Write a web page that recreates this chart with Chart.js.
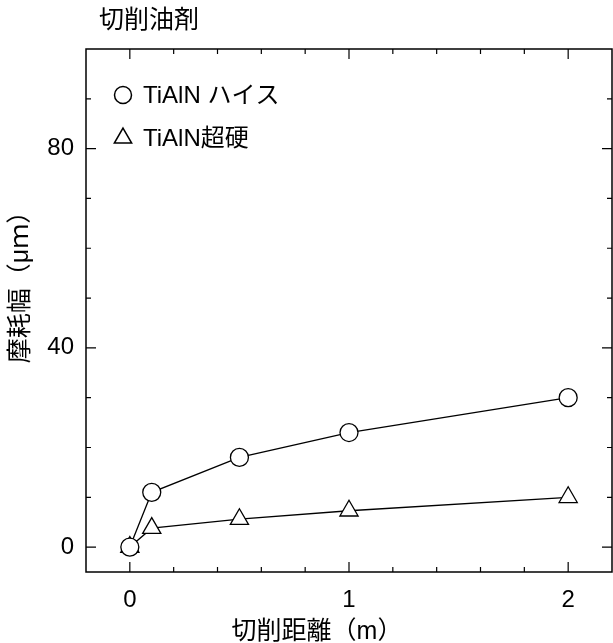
<!DOCTYPE html>
<html>
<head>
<meta charset="utf-8">
<script src="https://cdn.jsdelivr.net/npm/chart.js@4"></script>
<style>
  html, body { margin: 0; padding: 0; background: #fff; }
  #wrap { width: 613px; height: 643px; }
</style>
</head>
<body>
<div id="wrap"><canvas id="myChart" width="613" height="643"></canvas></div>
<script>
var FONT = "'Liberation Sans', 'Noto Sans CJK JP', sans-serif";

var distance = [0, 0.1, 0.5, 1, 2];
var hssWear = [0, 11, 18, 23, 30];
var carbideWear = [0, 3.8, 5.6, 7.3, 10];
var seriesNames = ["TiAlN ハイス", "TiAlN超硬"];
var xTickLabels = [0, 1, 2];
var yTickLabels = [0, 40, 80];
var xMinorTicks = [0.2, 0.4, 0.6, 0.8, 1.2, 1.4, 1.6, 1.8, 2.0];
var yMinorTicks = [10, 20, 30, 50, 60, 70, 90];

function toPoints(xs, ys) {
  return xs.map(function (x, i) { return { x: x, y: ys[i] }; });
}

function tickSet(major, minor) {
  var all = major.map(function (v) { return { value: v, major: true }; })
    .concat(minor.filter(function (v) { return major.indexOf(v) < 0; })
      .map(function (v) { return { value: v, major: false }; }));
  return all.sort(function (a, b) { return a.value - b.value; });
}

// ticks drawn inward on all four sides, longer on labelled ones
var innerTicks = {
  id: "innerTicks",
  afterDraw: function (chart) {
    var ctx = chart.ctx;
    var a = chart.chartArea;
    var xs = chart.scales.x, ys = chart.scales.y;
    ctx.save();
    ctx.strokeStyle = "#000";
    ctx.lineWidth = 1.5;
    ctx.strokeRect(a.left, a.top, a.right - a.left, a.bottom - a.top);
    ctx.lineWidth = 1.2;
    ctx.beginPath();
    xs.ticks.forEach(function (t) {
      var px = xs.getPixelForValue(t.value);
      var len = t.major ? 10 : 5;
      ctx.moveTo(px, a.bottom); ctx.lineTo(px, a.bottom - len);
      ctx.moveTo(px, a.top); ctx.lineTo(px, a.top + len);
    });
    ys.ticks.forEach(function (t) {
      var py = ys.getPixelForValue(t.value);
      var len = t.major ? 10 : 5;
      ctx.moveTo(a.left, py); ctx.lineTo(a.left + len, py);
      ctx.moveTo(a.right, py); ctx.lineTo(a.right - len, py);
    });
    ctx.stroke();

    // legend inside the plot
    ctx.font = "24px " + FONT;
    ctx.textBaseline = "middle";
    chart.data.datasets.forEach(function (ds, i) {
      var y = a.top + 46 + i * 43;
      ctx.fillStyle = "#fff";
      ctx.strokeStyle = "#000";
      ctx.lineWidth = 1.5;
      Chart.helpers.drawPoint(ctx, {
        pointStyle: ds.pointStyle, radius: ds.pointStyle === "circle" ? 8.5 : 10, borderWidth: 1.5
      }, a.left + 37, y);
      ctx.fillStyle = "#000";
      ctx.fillText(ds.label, a.left + 57, y + 1);
    });

    // titles
    ctx.fillStyle = "#000";
    ctx.font = "25px " + FONT;
    ctx.textAlign = "left";
    ctx.fillText("切削油剤", 99, 21);
    ctx.textAlign = "center";
    ctx.fillText("切削距離（m）", 317, 632);
    ctx.translate(21, 281);
    ctx.rotate(-Math.PI / 2);
    ctx.fillText("摩耗幅（μｍ）", 0, 0);
    ctx.restore();
  }
};

var pointStyleBase = {
  borderColor: "#000",
  backgroundColor: "#fff",
  pointBackgroundColor: "#fff",
  pointBorderColor: "#000",
  pointBorderWidth: 1.3,
  borderWidth: 1.3,
  tension: 0,
  fill: false
};

var ctx = document.getElementById("myChart");
var myChart = new Chart(ctx, {
  type: "line",
  data: {
    datasets: [
      Object.assign({
        label: seriesNames[0],
        data: toPoints(distance, hssWear),
        pointStyle: "circle",
        pointRadius: 9
      }, pointStyleBase),
      Object.assign({
        label: seriesNames[1],
        data: toPoints(distance, carbideWear),
        pointStyle: "triangle",
        pointRadius: 10.5
      }, pointStyleBase)
    ]
  },
  options: {
    responsive: false,
    animation: false,
    layout: { autoPadding: false, padding: { top: 49, right: 1, left: 0, bottom: 0 } },
    plugins: {
      legend: { display: false },
      tooltip: { enabled: false }
    },
    scales: {
      x: {
        type: "linear",
        min: -0.2,
        max: 2.2,
        border: { display: false },
        grid: { display: false },
        afterBuildTicks: function (s) { s.ticks = tickSet(xTickLabels, xMinorTicks); },
        ticks: {
          autoSkip: false,
          maxRotation: 0,
          padding: 6,
          color: "#000",
          font: { family: FONT, size: 24 },
          callback: function (v) {
            return xTickLabels.indexOf(v) >= 0 ? String(v) : "";
          }
        },
        afterFit: function (s) { s.height = 71; s.paddingRight = 0; s.paddingLeft = 0; }
      },
      y: {
        min: -5,
        max: 100,
        border: { display: false },
        grid: { display: false },
        afterBuildTicks: function (s) { s.ticks = tickSet(yTickLabels, yMinorTicks); },
        ticks: {
          autoSkip: false,
          padding: 4,
          color: "#000",
          font: { family: FONT, size: 24 },
          callback: function (v) {
            return yTickLabels.indexOf(v) >= 0 ? String(v) : "";
          }
        },
        afterFit: function (s) { s.width = 86; s.paddingTop = 0; s.paddingBottom = 0; }
      }
    }
  },
  plugins: [innerTicks]
});
</script>
</body>
</html>
